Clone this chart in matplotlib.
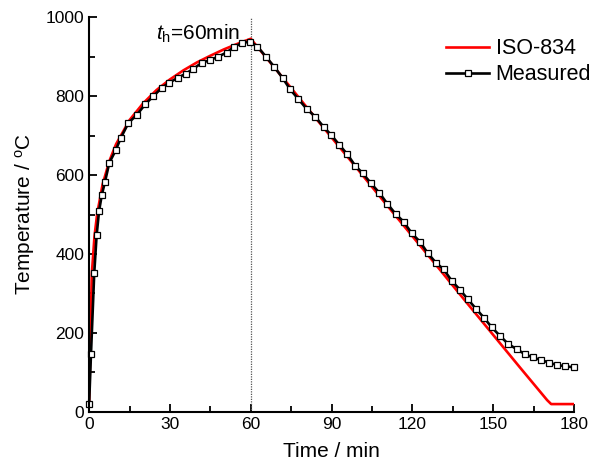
import numpy as np
import matplotlib
matplotlib.use("Agg")
import matplotlib.pyplot as plt
from matplotlib.ticker import MultipleLocator

plt.rcParams['font.family'] = ['Liberation Sans', 'DejaVu Sans']
plt.rcParams['mathtext.fontset'] = 'custom'
plt.rcParams['mathtext.rm'] = 'Liberation Sans'
plt.rcParams['mathtext.it'] = 'Liberation Sans:italic'

# ISO-834 standard fire curve (heating + cooling)
iso_time = [0, 1, 2, 3, 5, 7.5, 10, 15, 20, 25, 30, 35, 40, 45, 50, 55, 60,
            70, 80, 90, 100, 110, 120, 130, 140, 150, 160, 170, 171.5, 180]
iso_temp = [20, 349, 445, 502, 576, 635, 678, 739, 781, 815, 842, 865, 885, 902, 918, 932, 945,
            862, 778, 695, 612, 528, 445, 362, 278, 195, 112, 30, 20, 20]

# measured furnace temperature
meas_time = [0, 0.7, 1.9, 2.8, 3.7, 4.7, 5.9, 7.5, 9.9, 11.7, 14.6, 17.7, 20.8, 23.9,
             27, 29.8, 32.9, 36, 38.7, 41.8, 44.9, 48, 51, 53.9, 56.7, 59.8, 62.5,
             65.7, 68.7, 71.8, 74.6, 77.7, 80.8, 83.9, 87, 89.9, 92.9, 95.9, 98.7,
             101.6, 104.6, 107.7, 110.7, 113.8, 116.7, 119.8, 122.8, 125.7, 128.7,
             131.6, 134.6, 137.7, 140.6, 143.5, 146.5, 149.5, 152.6, 155.6, 158.7,
             161.6, 164.6, 167.6, 170.7, 173.6, 176.7, 179.8]
meas_temp = [19, 147, 351, 448, 509, 549, 583, 631, 663, 693, 732, 752, 779, 800,
             821, 834, 846, 857, 869, 884, 891, 900, 910, 925, 934, 938, 925,
             899, 874, 846, 817, 792, 767, 748, 722, 701, 676, 652, 624,
             604, 579, 555, 527, 501, 482, 452, 431, 402, 378,
             361, 332, 309, 285, 262, 239, 214, 192, 172, 159,
             147, 138, 132, 125, 119, 116, 113]

t_heat = 60

fig = plt.figure(figsize=(5.98, 4.73), dpi=100)
ax = fig.add_axes([0.149, 0.129, 0.811, 0.835])

ax.axvline(t_heat, color='#555555', ls=(0, (1, 1)), lw=0.9)
ax.plot(iso_time, iso_temp, color='red', lw=1.9, label='ISO-834')
ax.plot(meas_time, meas_temp, color='black', lw=1.9, marker='s', ms=4.6,
        mfc='white', mec='black', mew=0.9, label='Measured', clip_on=False)

ax.text(25.0, 942, r'$\it{t}_{\rm h}$=60min', fontsize=15, va='baseline')

ax.set_xlim(0, 180)
ax.set_ylim(0, 1000)
ax.xaxis.set_major_locator(MultipleLocator(30))
ax.xaxis.set_minor_locator(MultipleLocator(15))
ax.yaxis.set_major_locator(MultipleLocator(200))
ax.yaxis.set_minor_locator(MultipleLocator(100))
ax.tick_params(which='both', direction='in', width=1.3, labelsize=12.5)
ax.tick_params(which='major', length=6)
ax.tick_params(which='minor', length=4)
ax.spines['top'].set_visible(False)
ax.spines['right'].set_visible(False)
for s in ('left', 'bottom'):
    ax.spines[s].set_linewidth(1.5)

ax.set_xlabel('Time / min', fontsize=15, labelpad=7)
ax.set_ylabel(r'Temperature / $^{\rm o}$C', fontsize=15, labelpad=6)

ax.legend(loc='upper right', bbox_to_anchor=(1.075, 0.995), frameon=False,
          fontsize=15.5, handlelength=2.0, handletextpad=0.3, labelspacing=0.22)

fig.savefig('out.png', dpi=100)
